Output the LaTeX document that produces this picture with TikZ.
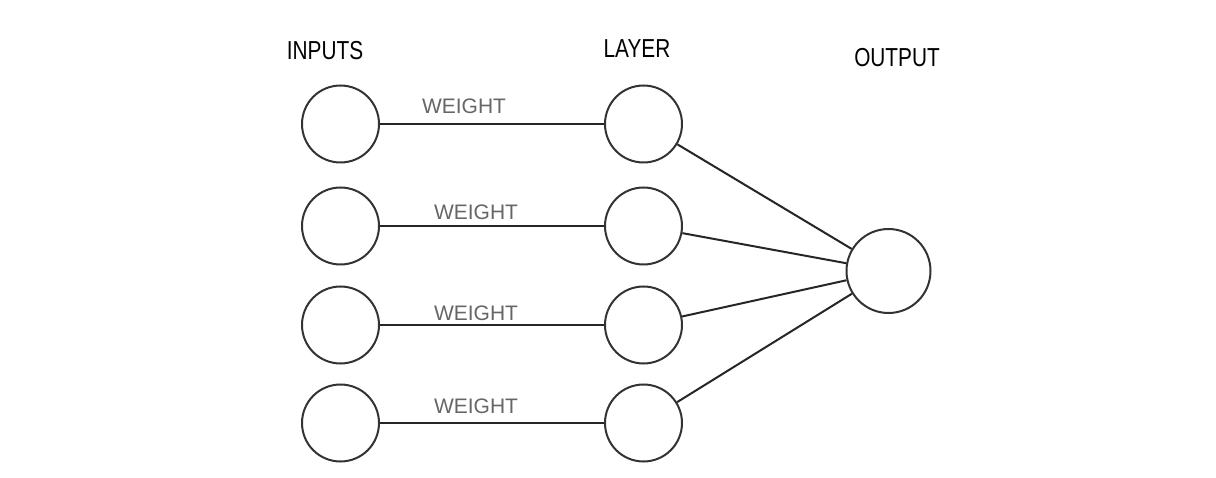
\documentclass[tikz,border=0pt]{standalone}
\usepackage{fontspec}
\setmainfont{Liberation Sans}
\newfontfamily\titlefont[FakeStretch=0.8]{Liberation Sans}
\begin{document}
\begin{tikzpicture}[x=1pt,y=-1pt,
  neuron/.style={circle,draw=black!80,line width=2pt,inner sep=0pt,minimum size=77pt},
  outneuron/.style={neuron,minimum size=84pt},
  title/.style={font=\titlefont\fontsize{26}{26}\selectfont,text=black},
  wlabel/.style={font=\fontsize{21}{21}\selectfont,text=black!60},
  conn/.style={line width=2pt,draw=black!85}]
\useasboundingbox (0,0) rectangle (1216,478);
\node[title] (tin) at (325,51) {INPUTS};
\node[title] (tlay) at (637,49) {LAYER};
\node[title] (tout) at (897,58) {OUTPUT};
\foreach \i/\y in {1/124,2/226,3/325,4/423}{
  \node[neuron] (in\i) at (340.5,\y) {};
  \node[neuron] (l\i) at (643.5,\y) {};
}
\node[outneuron] (out) at (888.5,271) {};
\foreach \i in {1,...,4}{
  \draw[conn] (in\i) -- (l\i);
  \draw[conn] (l\i) -- (out);
}
\node[wlabel] (w1) at (464,106) {WEIGHT};
\node[wlabel] (w2) at (476,212) {WEIGHT};
\node[wlabel] (w3) at (476,313) {WEIGHT};
\node[wlabel] (w4) at (476,406) {WEIGHT};
\end{tikzpicture}
\end{document}
